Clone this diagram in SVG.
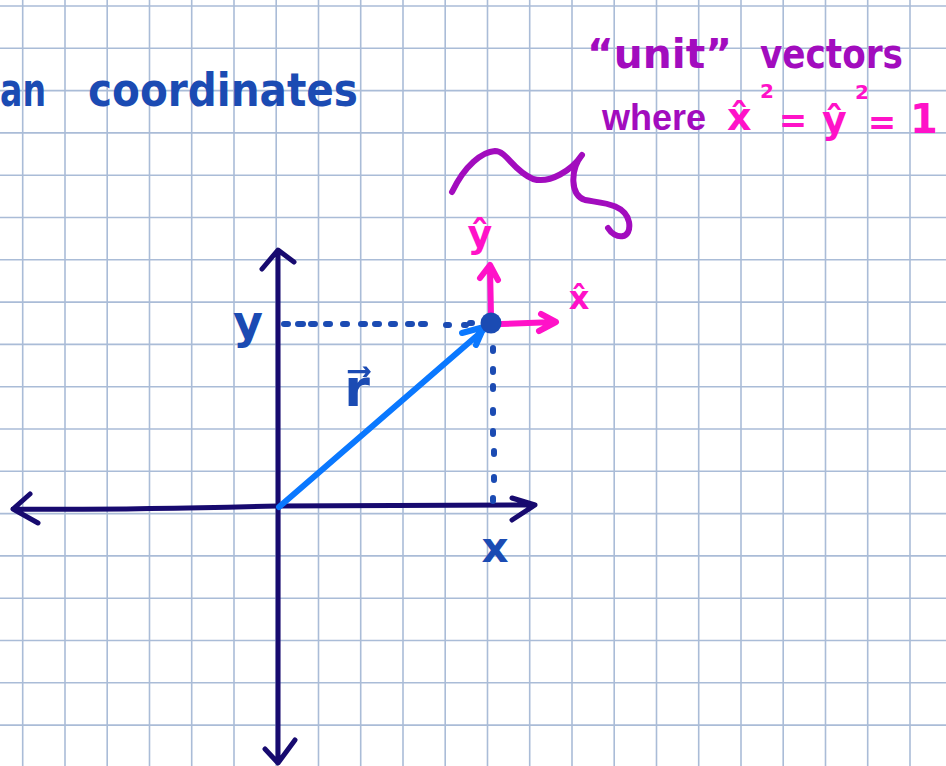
<svg xmlns="http://www.w3.org/2000/svg" width="946" height="766" viewBox="0 0 946 766">
<style>
.grid{fill:none;stroke:#aabcd7;stroke-width:1.6}
.ax{fill:none;stroke:#170a6f;stroke-width:5;stroke-linecap:round;stroke-linejoin:round}
.vec{fill:none;stroke:#0a78ff;stroke-width:6;stroke-linecap:round;stroke-linejoin:round}
.unit{fill:none;stroke:#ff12c8;stroke-width:6;stroke-linecap:round;stroke-linejoin:round}
.dots{fill:none;stroke:#1b4bb3;stroke-width:6;stroke-linecap:round}
.brace{fill:none;stroke:#a20cbe;stroke-width:6;stroke-linecap:round;stroke-linejoin:round}
.t{font-family:"DejaVu Sans","Liberation Sans",sans-serif;font-weight:bold}
.l{font-family:"Liberation Sans","DejaVu Sans",sans-serif;font-weight:bold}
.blue{fill:#1b4bb3}
.purple{fill:#a20cbe}
.pink{fill:#ff12c8}
</style>
<rect width="946" height="766" fill="#ffffff"/>
<g id="grid">
<path class="grid" d="M22.7,0V766M65,0V766M107.2,0V766M149.5,0V766M191.7,0V766M234,0V766M276.2,0V766M318.5,0V766M360.7,0V766M403,0V766M445.2,0V766M487.5,0V766M529.7,0V766M572,0V766M614.2,0V766M656.5,0V766M698.7,0V766M741,0V766M783.2,0V766M825.5,0V766M867.7,0V766M910,0V766
M0,6H946M0,48.3H946M0,90.6H946M0,132.9H946M0,175.2H946M0,217.5H946M0,259.8H946M0,302.1H946M0,344.4H946M0,386.7H946M0,429H946M0,471.3H946M0,513.6H946M0,555.9H946M0,598.2H946M0,640.5H946M0,682.8H946M0,725.1H946"/>
</g>
<g id="title">
<text class="t blue" x="0" y="106" font-size="46" textLength="46" lengthAdjust="spacingAndGlyphs">an</text>
<text class="t blue" x="88" y="106" font-size="46" textLength="270" lengthAdjust="spacingAndGlyphs">coordinates</text>
</g>
<g id="note">
<text class="t purple" x="587" y="68" font-size="40" textLength="145" lengthAdjust="spacingAndGlyphs">“unit”</text>
<text class="t purple" x="760" y="68" font-size="40" textLength="143" lengthAdjust="spacingAndGlyphs">vectors</text>
<text class="l purple" x="602" y="130" font-size="36">where</text>
<text class="t pink" x="727" y="130" font-size="38">x̂</text>
<text class="t pink" x="760" y="98" font-size="20">2</text>
<text class="t pink" x="793" y="132" font-size="34" text-anchor="middle">=</text>
<text class="t pink" x="822" y="133" font-size="38">ŷ</text>
<text class="t pink" x="855" y="99" font-size="20">2</text>
<text class="t pink" x="882" y="134" font-size="34" text-anchor="middle">=</text>
<text class="t pink" x="924" y="133" font-size="40" text-anchor="middle">1</text>
</g>
<g id="brace">
<path class="brace" d="M452,192 C465,165 482,152 495,151 C507,151 512,170 533,179 C550,184 572,170 582,155 C570,170 570,195 585,200 C600,203 625,203 629,222 C632,240 615,240 608,228"/>
</g>
<g id="connectors">
<path id="y-axis" class="ax" d="M278,251 C277,400 279,600 278,762 M262,269 L278,250 L294,262 M265,749 L278,763 L295,740"/>
<path id="x-axis" class="ax" d="M13,509 C80,510 200,508 278,506 C400,505 480,505 535,505 M30,494 L13,509 L38,523 M512,498 L535,505 L512,520"/>
<path id="r-vector" class="vec" d="M279,507 L487,327 M462,333 L484,327 L476,345"/>
<path id="y-dots" class="dots" d="M284,324h4M298,324h5M311,324h4M326,324h4M343,324h4M361,324h4M375,324h4M391,324h4M408,324h4M421,324h4M446,325h3M464,325h2M470,323h2"/>
<path id="x-dots" class="dots" d="M493,348v3M493,369v3M493,386v3M493,410v3M493,431v3M494,451v3M494,477v3M493,498v3"/>
<path id="unit-y" class="unit" d="M491,316 L490,267 M480,278 L490,265 L498,280"/>
<path id="unit-x" class="unit" d="M501,324 L555,322 M539,331 L556,322 L541,314"/>
</g>
<g id="point">
<circle cx="491" cy="323" r="10.5" fill="#1b4bb3"/>
</g>
<g id="labels">
<text class="t blue" x="248" y="338" font-size="46" text-anchor="middle">y</text>
<text class="t blue" x="495" y="562" font-size="42" text-anchor="middle">x</text>
<text class="t blue" x="357" y="406" font-size="52" text-anchor="middle">r⃗</text>
<text class="t pink" x="480" y="247" font-size="38" text-anchor="middle">ŷ</text>
<text class="t pink" x="579" y="309" font-size="32" text-anchor="middle">x̂</text>
</g>
</svg>
